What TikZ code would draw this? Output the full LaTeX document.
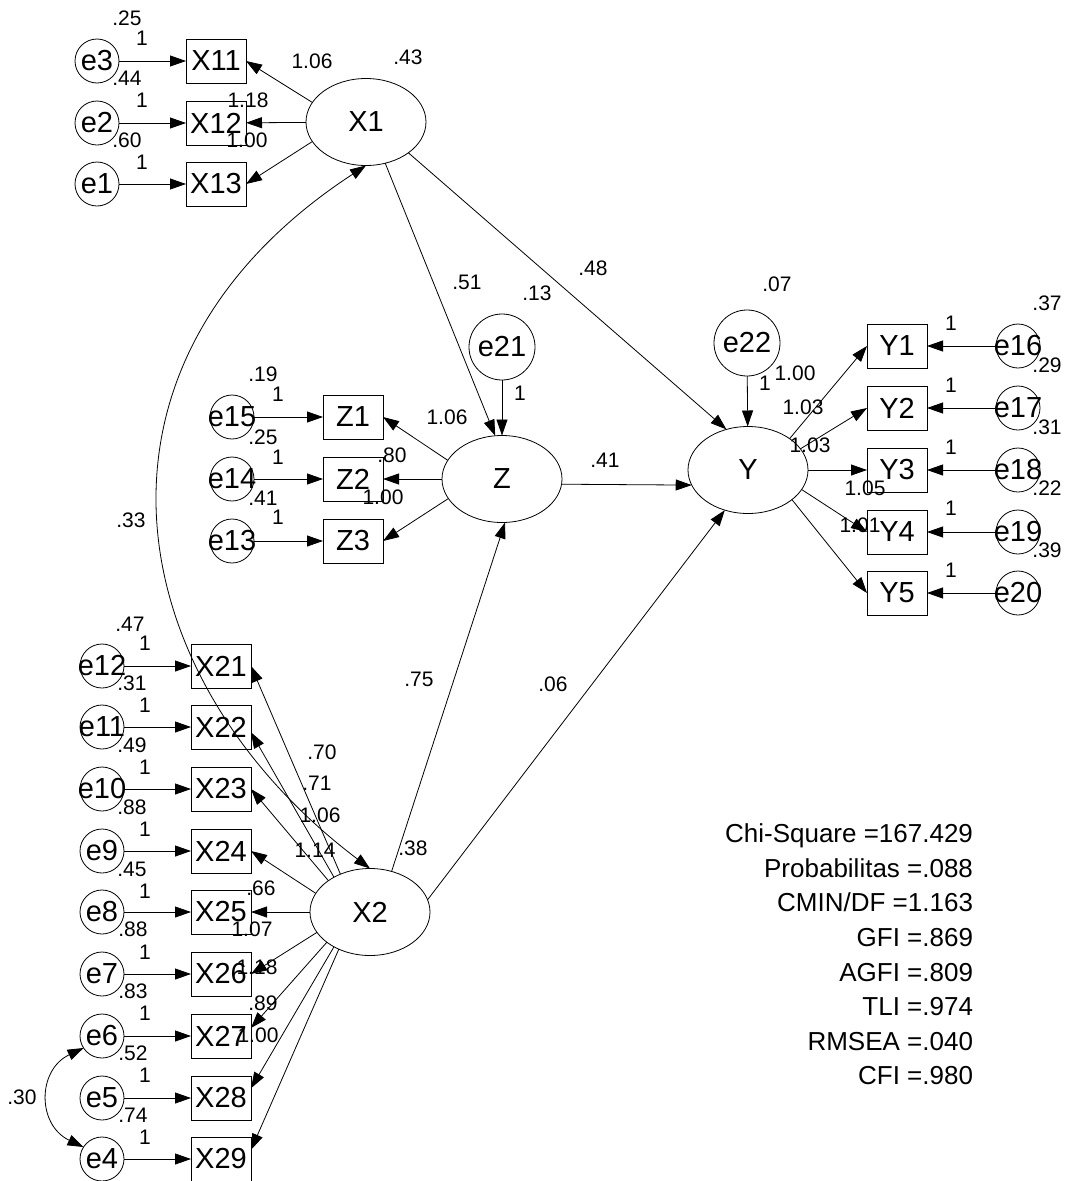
\documentclass[tikz,border=0pt]{standalone}
\usepackage{fontspec}
\setmainfont{Liberation Sans}
\usetikzlibrary{shapes.geometric,arrows.meta}
\newcommand{\zw}[1]{\makebox[0pt]{#1}}
\begin{document}
\begin{tikzpicture}[x=1pt,y=-1pt,
  every node/.style={inner sep=0pt,outer sep=0pt},
  nf/.style={font=\fontsize{29}{29}\selectfont},
  lv/.style={ellipse,draw,line width=0.8pt,minimum width=120pt,minimum height=87pt,nf},
  ov/.style={rectangle,draw,line width=0.8pt,minimum width=60pt,minimum height=44pt,nf},
  er/.style={circle,draw,line width=0.8pt,minimum size=44pt,nf},
  erb/.style={circle,draw,line width=0.8pt,minimum size=66pt,nf},
  lb/.style={font=\fontsize{21}{21}\selectfont},
  st/.style={anchor=base east,font=\fontsize{26}{26}\selectfont},
  arr/.style={-{Triangle[length=16pt,width=11pt]},line width=0.8pt},
  dbl/.style={{Triangle[length=16pt,width=11pt]}-{Triangle[length=16pt,width=11pt]},line width=0.8pt}
]
\fill[white] (0,0) rectangle (1069,1181);
\useasboundingbox (0,0) rectangle (1069,1181);

% latent variables
\node[lv] (X1) at (366,122) {X1};
\node[lv] (Z) at (502,479) {Z};
\node[lv] (Y) at (748,470) {Y};
\node[lv] (X2) at (370,912) {X2};

% X1 indicators
\node[ov] (X11) at (216,61) {X11};
\node[ov] (X12) at (216,123) {X12};
\node[ov] (X13) at (216,184) {X13};
\node[er] (e3) at (97,61) {\zw{e3}};
\node[er] (e2) at (97,123) {\zw{e2}};
\node[er] (e1) at (97,184) {\zw{e1}};

% Z indicators
\node[ov] (Z1) at (353,417) {Z1};
\node[ov] (Z2) at (353,479) {Z2};
\node[ov] (Z3) at (353,541) {Z3};
\node[er] (e15) at (232,417) {\zw{e15}};
\node[er] (e14) at (232,479) {\zw{e14}};
\node[er] (e13) at (232,541) {\zw{e13}};
\node[erb] (e21) at (502,347) {e21};
\node[erb] (e22) at (747,343) {e22};

% Y indicators
\node[ov] (Y1) at (897,346) {Y1};
\node[ov] (Y2) at (897,408) {Y2};
\node[ov] (Y3) at (897,470) {Y3};
\node[ov] (Y4) at (897,532) {Y4};
\node[ov] (Y5) at (897,593) {Y5};
\node[er] (e16) at (1018,346) {\zw{e16}};
\node[er] (e17) at (1018,408) {\zw{e17}};
\node[er] (e18) at (1018,470) {\zw{e18}};
\node[er] (e19) at (1018,532) {\zw{e19}};
\node[er] (e20) at (1018,593) {\zw{e20}};

% X2 indicators
\node[ov] (X21) at (221,666) {X21};
\node[ov] (X22) at (221,727) {X22};
\node[ov] (X23) at (221,789) {X23};
\node[ov] (X24) at (221,851) {X24};
\node[ov] (X25) at (221,912) {X25};
\node[ov] (X26) at (221,974) {X26};
\node[ov] (X27) at (221,1036) {X27};
\node[ov] (X28) at (221,1098) {X28};
\node[ov] (X29) at (221,1159) {X29};
\node[er] (e12) at (102,666) {\zw{e12}};
\node[er] (e11) at (102,727) {\zw{e11}};
\node[er] (e10) at (102,789) {\zw{e10}};
\node[er] (e9) at (102,851) {\zw{e9}};
\node[er] (e8) at (102,912) {\zw{e8}};
\node[er] (e7) at (102,974) {\zw{e7}};
\node[er] (e6) at (102,1036) {\zw{e6}};
\node[er] (e5) at (102,1098) {\zw{e5}};
\node[er] (e4) at (102,1159) {\zw{e4}};

% error arrows
\foreach \e/\b in {e3/X11,e2/X12,e1/X13,e15/Z1,e14/Z2,e13/Z3,e16/Y1,e17/Y2,e18/Y3,e19/Y4,e20/Y5,
  e12/X21,e11/X22,e10/X23,e9/X24,e8/X25,e7/X26,e6/X27,e5/X28,e4/X29,e21/Z,e22/Y}
  \draw[arr] (\e) -- (\b);

% loadings
\draw[arr] (X1.160) -- (X11.east);
\draw[arr] (X1) -- (X12);
\draw[arr] (X1.200) -- (X13.east);
\draw[arr] (Z.161) -- (Z1.east);
\draw[arr] (Z) -- (Z2);
\draw[arr] (Z.200) -- (Z3.east);
\draw[arr] (Y.37) -- (Y1.west);
\draw[arr] (Y.22) -- (Y2.west);
\draw[arr] (Y) -- (Y3);
\draw[arr] (Y.-20) -- (Y4.west);
\draw[arr] (Y.-34) -- (Y5.west);
\draw[arr] (X2.128) -- (X21.east);
\draw[arr] (X2.136) -- (X22.-10);
\draw[arr] (X2.143) -- (X23.east);
\draw[arr] (X2.161) -- (X24.east);
\draw[arr] (X2) -- (X25);
\draw[arr] (X2.201) -- (X26.east);
\draw[arr] (X2.215) -- (X27.15);
\draw[arr] (X2.224) -- (X28.18);
\draw[arr] (X2.230) -- (X29.17);

% structural paths
\draw[arr] (X1.-65) -- (Z.99);
\draw[arr] (X1.-36) -- (Y.118);
\draw[arr] (Z.-5) -- (Y.195);
\draw[arr] (X2.62) -- (Z.-86);
\draw[arr] (X2.12) -- (Y.240);

% covariances
\draw[dbl] (X1.south) .. controls (62,364) and (119,679) .. (X2.north);
\draw[dbl] (e6.213) .. controls (37,1070) and (37,1125) .. (e4.147);

% labels: X1 block
\node[lb] (a1) at (127,18) {.25};
\node[lb] (a2) at (142,38) {1};
\node[lb] (a3) at (127,78) {.44};
\node[lb] (a4) at (142,100) {1};
\node[lb] (a5) at (127,140) {.60};
\node[lb] (a6) at (142,162) {1};
\node[lb] (a7) at (312,61) {1.06};
\node[lb] (a8) at (408,57) {.43};
\node[lb] (a9) at (248,100) {1.18};
\node[lb] (a10) at (247,140) {1.00};

% structural labels
\node[lb] (b1) at (467,282) {.51};
\node[lb] (b2) at (537,293) {.13};
\node[lb] (b3) at (593,268) {.48};
\node[lb] (b4) at (777,284) {.07};
\node[lb] (b5) at (131,520) {.33};
\node[lb] (b6) at (605,460) {.41};
\node[lb] (b7) at (419,679) {.75};
\node[lb] (b8) at (553,684) {.06};
\node[lb] (b9) at (413,848) {.38};
\node[lb] (b10) at (22,1097) {.30};

% Z block
\node[lb] (c1) at (263,374) {.19};
\node[lb] (c2) at (278,394) {1};
\node[lb] (c3) at (263,437) {.25};
\node[lb] (c4) at (278,457) {1};
\node[lb] (c5) at (263,498) {.41};
\node[lb] (c6) at (278,517) {1};
\node[lb] (c7) at (447,417) {1.06};
\node[lb] (c8) at (392,455) {.80};
\node[lb] (c9) at (383,497) {1.00};
\node[lb] (c10) at (520,393) {1};

% Y block
\node[lb] (d1) at (1047,303) {.37};
\node[lb] (d2) at (951,323) {1};
\node[lb] (d3) at (1047,365) {.29};
\node[lb] (d4) at (951,385) {1};
\node[lb] (d5) at (1047,427) {.31};
\node[lb] (d6) at (951,447) {1};
\node[lb] (d7) at (1047,488) {.22};
\node[lb] (d8) at (951,508) {1};
\node[lb] (d9) at (1047,550) {.39};
\node[lb] (d10) at (951,570) {1};
\node[lb] (d11) at (765,383) {1};
\node[lb] (d12) at (795,373) {1.00};
\node[lb] (d13) at (803,407) {1.03};
\node[lb] (d14) at (810,445) {1.03};
\node[lb] (d15) at (865,488) {1.05};
\node[lb] (d16) at (860,525) {1.01};

% X2 block
\node[lb] (f1) at (130,624) {.47};
\node[lb] (f2) at (145,643) {1};
\node[lb] (f3) at (132,683) {.31};
\node[lb] (f4) at (145,705) {1};
\node[lb] (f5) at (132,745) {.49};
\node[lb] (f6) at (145,767) {1};
\node[lb] (f7) at (132,807) {.88};
\node[lb] (f8) at (145,829) {1};
\node[lb] (f9) at (132,869) {.45};
\node[lb] (f10) at (145,891) {1};
\node[lb] (f11) at (133,929) {.88};
\node[lb] (f12) at (145,952) {1};
\node[lb] (f13) at (133,991) {.83};
\node[lb] (f14) at (145,1013) {1};
\node[lb] (f15) at (133,1053) {.52};
\node[lb] (f16) at (145,1075) {1};
\node[lb] (f17) at (133,1115) {.74};
\node[lb] (f18) at (145,1137) {1};
\node[lb] (g1) at (322,752) {.70};
\node[lb] (g2) at (317,783) {.71};
\node[lb] (g3) at (320,815) {1.06};
\node[lb] (g4) at (315,850) {1.14};
\node[lb] (g5) at (261,888) {.66};
\node[lb] (g6) at (252,929) {1.07};
\node[lb] (g7) at (257,967) {1.18};
\node[lb] (g8) at (263,1003) {.89};
\node[lb] (g9) at (258,1035) {1.00};

% fit statistics
\node[st] (s1) at (973,842) {Chi-Square =167.429};
\node[st] (s2) at (973,877) {Probabilitas =.088};
\node[st] (s3) at (973,911) {CMIN/DF =1.163};
\node[st] (s4) at (973,946) {GFI =.869};
\node[st] (s5) at (973,981) {AGFI =.809};
\node[st] (s6) at (973,1015) {TLI =.974};
\node[st] (s7) at (973,1050) {RMSEA =.040};
\node[st] (s8) at (973,1084) {CFI =.980};
\end{tikzpicture}
\end{document}
